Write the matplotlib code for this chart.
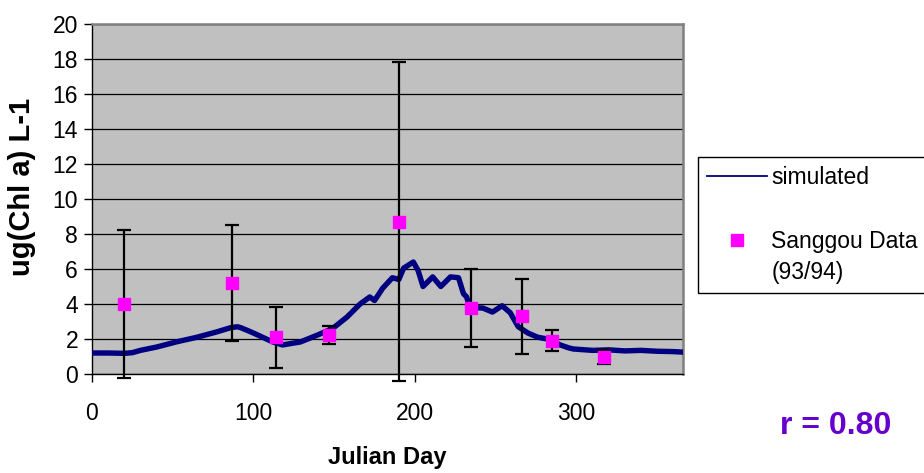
import matplotlib
matplotlib.use("Agg")
import matplotlib.pyplot as plt
from matplotlib.lines import Line2D

plt.rcParams['font.family'] = ['Liberation Sans', 'DejaVu Sans']

# Simulated chlorophyll
sim_day = [0, 10, 20, 25, 30, 40, 52, 65, 77, 86, 90, 92, 96, 100, 112, 118, 129,
           139, 149, 158, 166, 172, 175, 180, 186, 190, 193, 199, 202, 205, 211,
           216, 222, 227, 230, 232, 234, 242, 248, 254, 259, 264, 270, 276, 282,
           290, 295, 298, 310, 320, 330, 340, 350, 360, 366]
sim_val = [1.2, 1.2, 1.18, 1.22, 1.35, 1.54, 1.83, 2.1, 2.4, 2.65, 2.7, 2.65, 2.5,
           2.34, 1.83, 1.66, 1.83, 2.2, 2.6, 3.26, 4.0, 4.4, 4.2, 4.9, 5.5, 5.4,
           6.05, 6.4, 5.9, 5.0, 5.55, 5.0, 5.55, 5.5, 4.6, 4.4, 3.8, 3.77, 3.54,
           3.9, 3.5, 2.7, 2.34, 2.1, 2.0, 1.66, 1.5, 1.43, 1.35, 1.38, 1.32, 1.35,
           1.3, 1.28, 1.25]

# Sanggou observed data (93/94)
obs_day = [20, 87, 114, 147, 190, 235, 266, 285, 317]
obs_val = [4.0, 5.2, 2.1, 2.25, 8.7, 3.77, 3.3, 1.9, 0.97]
obs_err = [4.2, 3.3, 1.75, 0.52, 9.1, 2.23, 2.15, 0.6, 0.4]

x_ticks = [0, 100, 200, 300]
y_ticks = [0, 2, 4, 6, 8, 10, 12, 14, 16, 18, 20]

fig = plt.figure(figsize=(9.24, 4.73), dpi=100)
ax = fig.add_axes([92/924, 1-374/473, (683-92)/924, (374-24)/473])
ax.set_facecolor('#C0C0C0')

ax.set_xlim(0, 366)
ax.set_ylim(0, 20)
ax.set_xticks(x_ticks)
ax.set_yticks(y_ticks)
ax.yaxis.grid(True, color='black', linewidth=0.9)
ax.set_axisbelow(True)

ax.plot(sim_day, sim_val, color='#000080', linewidth=3.9,
        solid_joinstyle='round', zorder=3)
eb = ax.errorbar(obs_day, obs_val, yerr=obs_err, fmt='none', ecolor='black',
                 elinewidth=1.6, capsize=5, capthick=1.6, zorder=4)
for artist in list(eb.lines[1]) + list(eb.lines[2]):
    artist.set_clip_on(False)
ax.plot(obs_day, obs_val, linestyle='none', marker='s', markersize=9,
        color='#FF00FF', markeredgecolor='#FF00FF', zorder=5)

for s in ['top', 'right']:
    ax.spines[s].set_color('#808080')
    ax.spines[s].set_linewidth(1.8)
for s in ['left', 'bottom']:
    ax.spines[s].set_color('black')
    ax.spines[s].set_linewidth(1.0)

ax.tick_params(axis='both', direction='out', length=6, width=1.0,
               labelsize=16.5, colors='black')
ax.tick_params(axis='x', pad=14)
ax.tick_params(axis='y', pad=4)

ax.set_xlabel('Julian Day', fontsize=17, fontweight='bold', labelpad=15)
ax.set_ylabel('ug(Chl a) L-1', fontsize=21, fontweight='bold')
ax.yaxis.set_label_coords(-0.094, 0.534)

h_line = Line2D([], [], color='#000080', linewidth=1.3)
h_mark = Line2D([], [], linestyle='none', marker='s', markersize=9,
                color='#FF00FF')
h_none = Line2D([], [], linestyle='none')
leg = fig.legend(handles=[h_line, h_none, h_mark, h_none],
                 labels=['simulated', ' ', 'Sanggou Data', '(93/94)'],
                 loc='upper left', bbox_to_anchor=(698/924, 1-157/473),
                 borderaxespad=0, fontsize=16.5,
                 frameon=True, fancybox=False, edgecolor='black',
                 facecolor='white', framealpha=1, borderpad=0.4,
                 handlelength=2.6, handletextpad=0.2, labelspacing=0.38)
leg.get_frame().set_linewidth(1.0)

fig.text(836/924, 1-426/473, 'r = 0.80', fontsize=23, fontweight='bold',
         color='#6600CC', ha='center', va='center')

fig.savefig('out.png', dpi=100)
